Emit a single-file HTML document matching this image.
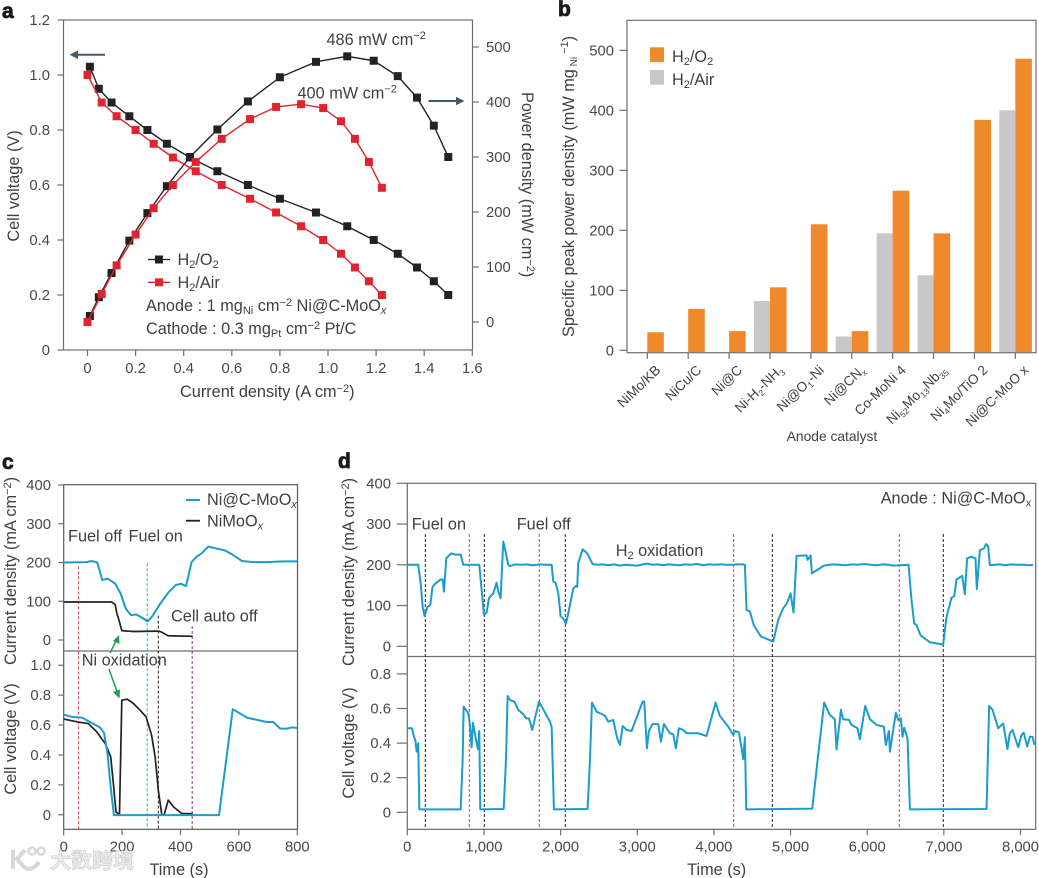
<!DOCTYPE html>
<html lang="en">
<head>
<meta charset="utf-8">
<title>Fuel cell performance of Ni@C-MoOx</title>
<style>
html,body{margin:0;padding:0;background:#fff;}
svg{display:block;}
text{font-family:"Liberation Sans","Noto Sans CJK SC",sans-serif;fill:#404040;font-size:16.3px;}
.tick{font-size:14.8px;fill:#484848;}
.letter{font-size:21px;font-weight:bold;fill:#1a1a1a;stroke:#1a1a1a;stroke-width:.8px;}
</style>
</head>
<body>
<svg id="figure" xmlns="http://www.w3.org/2000/svg" width="1039" height="878" viewBox="0 0 1039 878">
  <rect x="0" y="0" width="1039" height="878" fill="#fff"/>

  <!-- panel letters -->
  <text class="letter" x="2" y="18">a</text>
  <text class="letter" x="558" y="16">b</text>
  <text class="letter" x="2" y="469">c</text>
  <text class="letter" x="338" y="468">d</text>

  <!-- panel a -->
  <g id="panel-a">
    <rect x="63.5" y="20" width="409" height="330" fill="none" stroke="#6f6f6f" stroke-width="1.2"/>
    <g id="a-axes"></g>
    <g id="a-marks"></g>
    <text x="180" y="397">Current density (A cm<tspan dy="-5" font-size="11">−2</tspan><tspan dy="5">)</tspan></text>
    <text transform="translate(19,186) rotate(-90)" text-anchor="middle">Cell voltage (V)</text>
    <text transform="translate(522,92) rotate(90)">Power density (mW cm<tspan dy="-5" font-size="11">−2</tspan><tspan dy="5">)</tspan></text>
    <text x="326.5" y="45">486 mW cm<tspan dy="-6" font-size="11">−2</tspan></text>
    <text x="297.5" y="98.5">400 mW cm<tspan dy="-6" font-size="11">−2</tspan></text>
    <g fill="none" stroke="#42586c" stroke-width="2">
      <line x1="105" y1="54.7" x2="73" y2="54.7"/>
      <path d="M78 50.5 L69.5 54.7 L78 59 Z" fill="#42586c" stroke="none"/>
    </g>
    <g fill="none" stroke="#42586c" stroke-width="2">
      <line x1="428.5" y1="101" x2="460" y2="101"/>
      <path d="M456 96.7 L464.5 101 L456 105.3 Z" fill="#42586c" stroke="none"/>
    </g>
    <g>
      <line x1="148" y1="259.5" x2="170" y2="259.5" stroke="#222" stroke-width="1.3"/>
      <rect x="155" y="255.5" width="8" height="8" fill="#222"/>
      <text x="177.5" y="265">H<tspan dy="3" font-size="11">2</tspan><tspan dy="-3">/O</tspan><tspan dy="3" font-size="11">2</tspan></text>
      <line x1="148" y1="282.3" x2="170" y2="282.3" stroke="#e0242f" stroke-width="1.3"/>
      <rect x="155" y="278.3" width="8" height="8" fill="#e0242f"/>
      <text x="177.5" y="288">H<tspan dy="3" font-size="11">2</tspan><tspan dy="-3">/Air</tspan></text>
    </g>
    <text x="146" y="311">Anode : 1 mg<tspan dy="3" font-size="11">Ni</tspan><tspan dy="-3"> cm</tspan><tspan dy="-5" font-size="11">−2</tspan><tspan dy="5"> Ni@C-MoO</tspan><tspan dy="3" font-size="11" font-style="italic">x</tspan></text>
    <text x="146" y="334">Cathode : 0.3 mg<tspan dy="3" font-size="11">Pt</tspan><tspan dy="-3"> cm</tspan><tspan dy="-5" font-size="11">−2</tspan><tspan dy="5"> Pt/C</tspan></text>
  </g>

  <!-- panel b -->
  <g id="panel-b">
    <g id="b-marks"></g>
    <rect x="627" y="20.3" width="409" height="332.4" fill="none" stroke="#6f6f6f" stroke-width="1.2"/>
    <g id="b-axes"></g>
    <rect x="650" y="47.3" width="14" height="14.7" fill="#ee8a2c"/>
    <text x="672" y="62">H<tspan dy="3" font-size="11">2</tspan><tspan dy="-3">/O</tspan><tspan dy="3" font-size="11">2</tspan></text>
    <rect x="650" y="70" width="14" height="14.7" fill="#c8c8c8"/>
    <text x="672" y="85">H<tspan dy="3" font-size="11">2</tspan><tspan dy="-3">/Air</tspan></text>
    <text x="832" y="441" text-anchor="middle" style="font-size:13.8px">Anode catalyst</text>
    <text transform="translate(574,337) rotate(-90)">Specific peak power density (mW mg<tspan dy="3" font-size="10"> Ni</tspan><tspan dy="-9" font-size="11"> −1</tspan><tspan dy="6">)</tspan></text>
  </g>

  <!-- panel c -->
  <g id="panel-c">
    <rect x="63.7" y="484.7" width="233.8" height="344.6" fill="none" stroke="#5a5a5a" stroke-width="1.2"/>
    <line x1="63.7" y1="651" x2="297.5" y2="651" stroke="#6f6f6f" stroke-width="1.2"/>
    <g id="c-axes"></g>
    <g id="c-marks"></g>
    <text transform="translate(16,571) rotate(-90)" text-anchor="middle">Current density (mA cm<tspan dy="-5" font-size="11">−2</tspan><tspan dy="5">)</tspan></text>
    <text transform="translate(16,739) rotate(-90)" text-anchor="middle">Cell voltage (V)</text>
    <text x="179" y="875" text-anchor="middle">Time (s)</text>
    <line x1="186" y1="500" x2="200" y2="500" stroke="#1c9ccb" stroke-width="2"/>
    <text x="207" y="505">Ni@C-MoO<tspan dy="3" font-size="11" font-style="italic">x</tspan></text>
    <line x1="186" y1="520.7" x2="200" y2="520.7" stroke="#222" stroke-width="1.8"/>
    <text x="207" y="526.5">NiMoO<tspan dy="3" font-size="11" font-style="italic">x</tspan></text>
    <text x="68" y="541.5">Fuel off</text>
    <text x="128.5" y="541.5">Fuel on</text>
    <text x="171" y="621.5">Cell auto off</text>
    <text x="81.7" y="665.5">Ni oxidation</text>
    <g stroke="#1fa050" stroke-width="1.5" fill="#1fa050">
      <line x1="110" y1="653" x2="117" y2="639"/>
      <path d="M119 635 L119.5 644 L113 641 Z" stroke="none"/>
      <line x1="109" y1="669" x2="117.5" y2="693"/>
      <path d="M119.5 698.5 L113 692 L120 689.5 Z" stroke="none"/>
    </g>
  </g>

  <!-- panel d -->
  <g id="panel-d">
    <rect x="407.3" y="483.3" width="628.4" height="346" fill="none" stroke="#6a6a6a" stroke-width="1.2"/>
    <line x1="407.3" y1="656.5" x2="1035.7" y2="656.5" stroke="#6f6f6f" stroke-width="1.2"/>
    <g id="d-axes"></g>
    <g id="d-marks"></g>
    <text transform="translate(354,572) rotate(-90)" text-anchor="middle">Current density (mA cm<tspan dy="-5" font-size="11">−2</tspan><tspan dy="5">)</tspan></text>
    <text transform="translate(354,743) rotate(-90)" text-anchor="middle">Cell voltage (V)</text>
    <text x="716.7" y="875" text-anchor="middle">Time (s)</text>
    <text x="411.7" y="529.5">Fuel on</text>
    <text x="516.7" y="529.5">Fuel off</text>
    <text x="615.7" y="556">H<tspan dy="3" font-size="11">2</tspan><tspan dy="-3"> oxidation</tspan></text>
    <text x="880.7" y="503.5">Anode :  Ni@C-MoO<tspan dy="3" font-size="11">x</tspan></text>
  </g>

  <!-- watermark -->
  <g>
    <g fill="none" stroke="#d8d8d8" stroke-width="4">
      <path d="M13 850 L13 869"/>
      <path d="M25 850 L17 859 L25 868 Q33 871 39 862"/>
      <circle cx="32" cy="851" r="3.5" stroke-width="2.5"/>
      <circle cx="41" cy="851" r="3.5" stroke-width="2.5"/>
    </g>
    <text x="50" y="868" style="font-size:21px;fill:#ececec;stroke:#c4c4c4;stroke-width:.5px;font-weight:bold;font-family:'Liberation Sans','Noto Sans CJK SC',sans-serif">大数跨境</text>
  </g>
</svg>

<script>
/* ---------- panel a data ---------- */
const aCurrentO2 = [0.01,0.047,0.1,0.174,0.249,0.33,0.426,0.54,0.667,0.8,0.95,1.08,1.19,1.29,1.37,1.44,1.5];
const aVoltageO2 = [1.03,0.95,0.9,0.85,0.8,0.75,0.7,0.65,0.6,0.55,0.5,0.45,0.4,0.35,0.3,0.25,0.2];
const aPowerO2 = [11,45,89,148,198,247,300,350,401,445,473,483,475,447,408,357,300];
const aCurrentAir = [0,0.059,0.121,0.2,0.275,0.355,0.45,0.558,0.676,0.784,0.888,0.98,1.054,1.112,1.17,1.224];
const aVoltageAir = [1.0,0.9,0.85,0.8,0.75,0.7,0.65,0.6,0.55,0.5,0.45,0.4,0.35,0.3,0.25,0.2];
const aPowerAir = [0,51,103,159,207,249,291,333,369,391,396,389,365,333,291,244];
const aXTicks = [0,0.2,0.4,0.6,0.8,1.0,1.2,1.4,1.6];
const aVoltageTicks = [0,0.2,0.4,0.6,0.8,1.0,1.2];
const aPowerTicks = [0,100,200,300,400,500];

/* ---------- panel b data ---------- */
const bCategories = ["NiMo/KB","NiCu/C","Ni@C","Ni-H_{2}-NH_{3}","Ni@O_{1}-Ni","Ni@CN_{x}","Co-MoNi 4","Ni_{52}Mo_{13}Nb_{35}","Ni_{4}Mo/TiO 2","Ni@C-MoO x"];
const bO2Values = [30,69,32,105,210,32,266,195,384,486];
const bAirValues = [null,null,null,82,null,23,195,125,null,400];
const bYTicks = [0,100,200,300,400,500];

/* ---------- panel c data ---------- */
const cCurrentTimeBlue = [0,79,96,115,132,151,176,195,213,231,248,267,288,305,330,358,384,402,419,438,455,473,495,524,553,581,610,650,695,752,800];
const cCurrentBlue = [200,201,204,200,155,158,146,120,80,64,66,58,48,63,93,122,142,145,139,201,215,224,241,236,231,219,204,201,201,203,203];
const cCurrentTimeBlack = [0,164,176,182,189,199,239,324,333,358,442];
const cCurrentBlack = [98,98,92,69,52,24,22,23,21,11,9.5];
const cVoltageTimeBlack = [0,50,84,113,142,161,170,179,191,199,218,239,261,282,301,313,324,336,344,358,376,404,442];
const cVoltageBlack = [0.64,0.62,0.61,0.555,0.477,0.388,0.21,0.02,0,0.766,0.773,0.744,0.70,0.655,0.533,0.388,0.165,0,0,0.098,0.053,0.009,0.007];
const cVoltageTimeBlue = [0,27,62,90,124,138,150,162,172,532,579,629,678,695,718,741,763,781,800];
const cVoltageBlue = [0.67,0.655,0.65,0.62,0.584,0.548,0.41,0.165,-0.002,-0.002,0.706,0.648,0.628,0.62,0.62,0.577,0.575,0.584,0.58];
const cTimeTicks = [0,200,400,600,800];
const cCurrentTicks = [0,100,200,300,400];
const cVoltageTicks = [0,0.2,0.4,0.6,0.8,1.0];
const cEventTimes = [51,286,324,440];
const cEventTopValues = [190,198,63,36];

/* ---------- panel d data ---------- */
const dCurrentTime = [0,143,174,200,226,261,300,330,361,435,461,478,509,539,574,622,696,730,939,970,1000,1035,1065,1122,1165,1187,1217,1252,1287,1317,1339,1404,1480,1560,1640,1720,1800,1883,1904,1935,1970,2000,2035,2070,2109,2165,2200,2217,2230,2287,2348,2417,2470,2550,2620,2700,2770,2850,2920,3000,3070,3130,3200,3260,3340,3400,3470,3550,3620,3700,3780,3850,3930,4010,4090,4170,4250,4320,4383,4404,4426,4470,4522,4613,4774,4839,4904,4957,5000,5039,5078,5209,5222,5261,5278,5435,5500,5560,5643,5720,5800,5880,5960,6040,6120,6200,6280,6350,6417,6539,6578,6613,6643,6696,6817,6991,7035,7100,7135,7165,7239,7274,7304,7361,7413,7430,7470,7522,7552,7578,7600,7660,7730,7800,7880,7960,8040,8110,8165];
const dCurrent = [200,200,155,97,74,96,102,146,153,164,164,134,216,222,228,225,225,200,200,138,77,83,118,130,156,134,118,257,228,200,197,201,200,201,199,201,200,200,159,156,130,73,69,55,89,142,148,146,204,238,228,202,200,201,199,201,198,200,199,198,201,203,200,201,199,201,200,199,201,200,202,199,201,200,201,200,200,201,201,200,89,85,51,24,11.5,65,93,107,130,83,222,223,212,223,179,198,200,201,200,199,201,200,202,200,199,201,200,198,199,200,114,56,52,27,10,4.5,72,119,123,164,173,128,216,220,216,140,236,240,251,245,199,200,201,199,201,200,200,199,200];
const dVoltageTime = [0,61,87,104,122,143,157,696,722,735,796,817,839,857,874,904,922,939,952,1257,1287,1309,1339,1396,1448,1522,1548,1587,1630,1717,1774,1861,1883,1913,2352,2383,2409,2470,2578,2622,2687,2739,2774,2809,2861,2926,3070,3091,3126,3152,3200,3274,3309,3348,3426,3470,3504,3543,3600,3643,3796,3904,3948,4022,4078,4187,4252,4274,4326,4361,4383,4404,4422,5283,5348,5439,5513,5578,5600,5657,5687,5761,5796,5874,5904,5974,6035,6122,6217,6243,6283,6296,6374,6404,6439,6461,6483,6526,6557,7557,7591,7635,7709,7774,7830,7861,7896,7970,8013,8043,8087,8122,8157,8183];
const dVoltage = [0.486,0.486,0.437,0.418,0.351,0.399,0.017,0.017,0.30,0.611,0.572,0.505,0.376,0.518,0.476,0.40,0.364,0.47,0.017,0.019,0.30,0.672,0.649,0.64,0.592,0.563,0.543,0.543,0.476,0.64,0.595,0.524,0.495,0.017,0.019,0.30,0.634,0.582,0.559,0.524,0.534,0.428,0.389,0.499,0.476,0.47,0.64,0.64,0.37,0.47,0.51,0.51,0.408,0.51,0.457,0.451,0.37,0.486,0.476,0.457,0.457,0.441,0.514,0.634,0.557,0.495,0.447,0.47,0.462,0.37,0.308,0.434,0.017,0.021,0.283,0.634,0.563,0.538,0.364,0.592,0.538,0.534,0.505,0.486,0.422,0.615,0.538,0.505,0.495,0.389,0.47,0.351,0.576,0.534,0.543,0.437,0.489,0.428,0.017,0.019,0.615,0.592,0.486,0.514,0.366,0.457,0.476,0.376,0.447,0.46,0.38,0.437,0.437,0.389];
const dTimeTicks = [0,1000,2000,3000,4000,5000,6000,7000,8000];
const dCurrentTicks = [0,100,200,300,400];
const dVoltageTicks = [0,0.2,0.4,0.6,0.8];
const dFuelOnTimes = [235,1005,2061,4762,6993];
const dFuelOffTimes = [809,1722,4258,6419];

/* ---------- axis functions ---------- */
const aX = v => 87.5 + v * 240.5;
const aYV = v => 350 - v * 275;
const aYP = v => 322 - v * 0.55;
const bX = i => 647.3 + i * 40.89;
const bY = v => 350.3 - v * 0.6;
const cX = v => 63.7 + v * 0.292;
const cYI = v => 640 - v * 0.3875;
const cYV = v => 814.8 - v * 149.6;
const dX = v => 407.3 + v * 0.07665;
const dYI = v => 646.3 - v * 0.4075;
const dYV = v => 812.3 - v * 173;

const NS = "http://www.w3.org/2000/svg";
const decimal = v => v === 0 ? "0" : v.toFixed(1);
const plain = v => String(v);
const thousands = v => v.toLocaleString("en-US");

function drawLine(parent, xs, ys, xf, yf, color, width, name) {
  const el = document.createElementNS(NS, "polyline");
  
  
  el.setAttribute("points", xs.map((x, i) => xf(x).toFixed(2) + "," + yf(ys[i]).toFixed(2)).join(" "));
  el.setAttribute("fill", "none");
  el.setAttribute("stroke", color);
  el.setAttribute("stroke-width", width);
  el.setAttribute("stroke-linejoin", "round");
  parent.appendChild(el);
}

function drawMarkers(parent, xs, ys, xf, yf, color, name) {
  xs.forEach((x, i) => {
    const el = document.createElementNS(NS, "rect");
    
    
    el.setAttribute("x", xf(x) - 4);
    el.setAttribute("y", yf(ys[i]) - 4);
    el.setAttribute("width", 8);
    el.setAttribute("height", 8);
    el.setAttribute("fill", color);
    parent.appendChild(el);
  });
}

function tickLine(parent, x1, y1, x2, y2, name) {
  const el = document.createElementNS(NS, "line");
  
  
  el.setAttribute("x1", x1);
  el.setAttribute("y1", y1);
  el.setAttribute("x2", x2);
  el.setAttribute("y2", y2);
  el.setAttribute("stroke", "#6f6f6f");
  el.setAttribute("stroke-width", 1.2);
  parent.appendChild(el);
}

function tickLabel(parent, x, y, anchor, str, name) {
  const el = document.createElementNS(NS, "text");
  
  
  el.setAttribute("class", "tick");
  el.setAttribute("x", x);
  el.setAttribute("y", y);
  el.setAttribute("text-anchor", anchor);
  el.textContent = str;
  parent.appendChild(el);
}

function yTicks(parent, ticks, yf, axisX, len, labelX, anchor, fmt, name) {
  ticks.forEach(t => {
    tickLine(parent, axisX, yf(t), axisX + len, yf(t), name + "-tick");
    tickLabel(parent, labelX, yf(t) + 5, anchor, fmt(t), name + "-tick-label");
  });
}

function xTicks(parent, ticks, xf, axisY, len, labelY, fmt, name) {
  ticks.forEach(t => {
    tickLine(parent, xf(t), axisY, xf(t), axisY + len, name + "-tick");
    tickLabel(parent, xf(t), labelY, "middle", fmt(t), name + "-tick-label");
  });
}

function eventLine(parent, x, y1, y2, color, name) {
  const el = document.createElementNS(NS, "line");
  
  
  el.setAttribute("x1", x);
  el.setAttribute("y1", y1);
  el.setAttribute("x2", x);
  el.setAttribute("y2", y2);
  el.setAttribute("stroke", color);
  el.setAttribute("stroke-width", 1);
  el.setAttribute("stroke-dasharray", "3 2");
  parent.appendChild(el);
}

/* ---------- panel a ---------- */
(function () {
  const axes = document.getElementById("a-axes");
  const marks = document.getElementById("a-marks");
  yTicks(axes, aVoltageTicks, aYV, 63.5, -6, 50, "end", decimal, "a-voltage-axis");
  yTicks(axes, aPowerTicks, aYP, 472.5, 6.5, 486, "start", plain, "a-power-axis");
  xTicks(axes, aXTicks, aX, 350, 6, 373, decimal, "a-current-axis");
  drawLine(marks, aCurrentO2, aVoltageO2, aX, aYV, "#222", 1.4, "voltage-line-o2");
  drawLine(marks, aCurrentO2, aPowerO2, aX, aYP, "#222", 1.4, "power-line-o2");
  drawMarkers(marks, aCurrentO2, aVoltageO2, aX, aYV, "#222", "voltage-point-o2");
  drawMarkers(marks, aCurrentO2, aPowerO2, aX, aYP, "#222", "power-point-o2");
  drawLine(marks, aCurrentAir, aVoltageAir, aX, aYV, "#e0242f", 1.4, "voltage-line-air");
  drawLine(marks, aCurrentAir, aPowerAir, aX, aYP, "#e0242f", 1.4, "power-line-air");
  drawMarkers(marks, aCurrentAir, aVoltageAir, aX, aYV, "#e0242f", "voltage-point-air");
  drawMarkers(marks, aCurrentAir, aPowerAir, aX, aYP, "#e0242f", "power-point-air");
})();

/* ---------- panel b ---------- */
function richLabel(el, str) {
  const parts = str.split(/(_\{[^}]*\})/);
  let lowered = false;
  parts.forEach(part => {
    if (!part) return;
    const span = document.createElementNS(NS, "tspan");
    const isSub = part.startsWith("_{");
    span.textContent = isSub ? part.slice(2, -1) : part;
    if (isSub) {
      span.setAttribute("font-size", "8.5");
      span.setAttribute("dy", "3");
      lowered = true;
    } else if (lowered) {
      span.setAttribute("dy", "-3");
      lowered = false;
    }
    el.appendChild(span);
  });
}

(function () {
  const axes = document.getElementById("b-axes");
  const marks = document.getElementById("b-marks");
  const frameBottom = 352;
  bCategories.forEach((cat, i) => {
    const x = bX(i);
    if (bAirValues[i] !== null) {
      const gray = document.createElementNS(NS, "rect");
      
      
      gray.setAttribute("x", x - 16);
      gray.setAttribute("y", bY(bAirValues[i]));
      gray.setAttribute("width", 16);
      gray.setAttribute("height", frameBottom - bY(bAirValues[i]));
      gray.setAttribute("fill", "#c8c8c8");
      marks.appendChild(gray);
    }
    const bar = document.createElementNS(NS, "rect");
    
    
    bar.setAttribute("x", x);
    bar.setAttribute("y", bY(bO2Values[i]));
    bar.setAttribute("width", 16.6);
    bar.setAttribute("height", frameBottom - bY(bO2Values[i]));
    bar.setAttribute("fill", "#ee8a2c");
    marks.appendChild(bar);
    tickLine(axes, x, 352.7, x, 359, "b-category-tick");
    const label = document.createElementNS(NS, "text");
    
    
    label.setAttribute("text-anchor", "end");
    label.setAttribute("transform", "translate(" + (x + 14) + ",371) rotate(-44)");
    label.style.fontSize = "13.6px";
    richLabel(label, cat);
    axes.appendChild(label);
  });
  yTicks(axes, bYTicks, bY, 627, -7.5, 614, "end", plain, "b-value-axis");
})();

/* ---------- panel c ---------- */
(function () {
  const axes = document.getElementById("c-axes");
  const marks = document.getElementById("c-marks");
  yTicks(axes, cCurrentTicks, cYI, 63.7, -5.5, 51, "end", plain, "c-current-axis");
  yTicks(axes, cVoltageTicks, cYV, 63.7, -5.5, 51, "end", decimal, "c-voltage-axis");
  xTicks(axes, cTimeTicks, cX, 829.3, 6, 851.5, plain, "c-time-axis");
  const colors = ["#d9434f", "#3aa9cf", "#222", "#7a3a78"];
  cEventTimes.forEach((t, i) => {
    eventLine(marks, cX(t), cYI(cEventTopValues[i]), 829.3, colors[i], "c-event-line");
  });
  drawLine(marks, cCurrentTimeBlack, cCurrentBlack, cX, cYI, "#222", 1.7, "current-line-nimoox");
  drawLine(marks, cCurrentTimeBlue, cCurrentBlue, cX, cYI, "#1c9ccb", 2, "current-line-ni-c-moox");
  drawLine(marks, cVoltageTimeBlack, cVoltageBlack, cX, cYV, "#222", 1.7, "voltage-line-nimoox");
  drawLine(marks, cVoltageTimeBlue, cVoltageBlue, cX, cYV, "#1c9ccb", 2, "voltage-line-ni-c-moox");
})();

/* ---------- panel d ---------- */
(function () {
  const axes = document.getElementById("d-axes");
  const marks = document.getElementById("d-marks");
  yTicks(axes, dCurrentTicks, dYI, 407.3, -10.5, 391, "end", plain, "d-current-axis");
  yTicks(axes, dVoltageTicks, dYV, 407.3, -10.5, 391, "end", decimal, "d-voltage-axis");
  xTicks(axes, dTimeTicks, dX, 829.3, 6, 851.5, thousands, "d-time-axis");
  dFuelOnTimes.forEach(t => {
    eventLine(marks, dX(t), 534, 829.3, "#222", "d-fuel-on-line");
  });
  dFuelOffTimes.forEach(t => {
    eventLine(marks, dX(t), 534, 829.3, "#d9434f", "d-fuel-off-line");
  });
  drawLine(marks, dCurrentTime, dCurrent, dX, dYI, "#1c9ccb", 2, "current-line-d");
  drawLine(marks, dVoltageTime, dVoltage, dX, dYV, "#1c9ccb", 2, "voltage-line-d");
})();
</script>
</body>
</html>
